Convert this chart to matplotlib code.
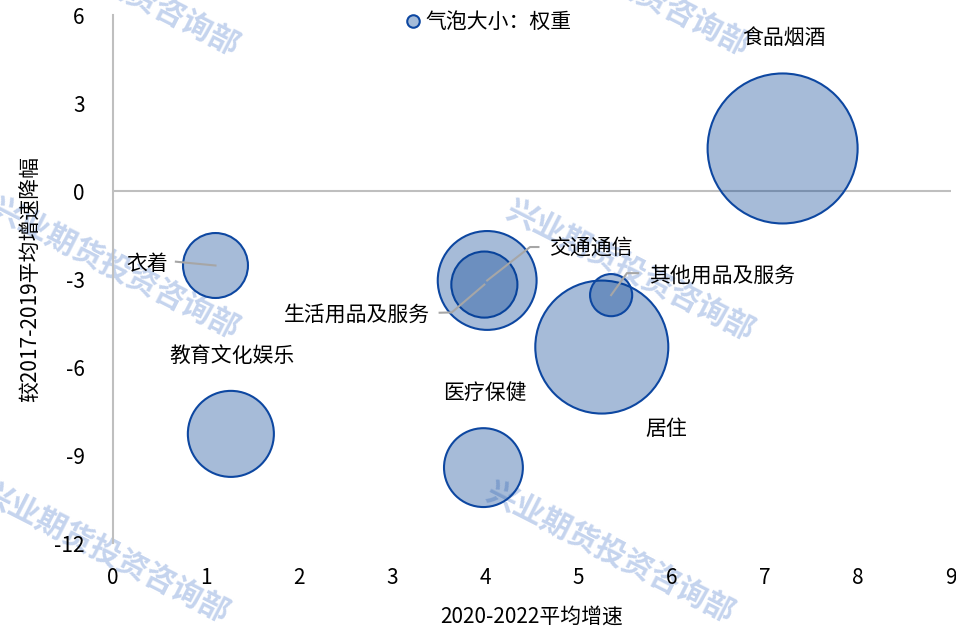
import matplotlib
matplotlib.use("Agg")
import matplotlib.pyplot as plt
from matplotlib.lines import Line2D

plt.rcParams['font.family'] = ['Noto Sans CJK SC', 'DejaVu Sans']
plt.rcParams['axes.unicode_minus'] = False

# ---- data ----
categories = ['食品烟酒', '衣着', '居住', '生活用品及服务', '交通通信',
              '教育文化娱乐', '医疗保健', '其他用品及服务']
growth_2020_2022 = [7.19, 1.105, 5.25, 3.99, 4.02, 1.27, 3.98, 5.35]
decline_vs_2017_2019 = [1.45, -2.54, -5.32, -3.19, -3.05, -8.28, -9.43, -3.55]
weights = [30.4, 5.7, 23.9, 5.9, 13.2, 10.0, 8.4, 2.4]
x_ticks = [0, 1, 2, 3, 4, 5, 6, 7, 8, 9]
y_ticks = [-12, -9, -6, -3, 0, 3, 6]

# ---- layout (label positions in data coords) ----
label_pos = {
    '食品烟酒': (7.20, 5.22),
    '衣着': (0.37, -2.49),
    '教育文化娱乐': (1.28, -5.63),
    '交通通信': (5.13, -1.94),
    '生活用品及服务': (2.62, -4.23),
    '其他用品及服务': (6.54, -2.90),
    '居住': (5.94, -8.11),
    '医疗保健': (3.99, -6.87),
}
leader_pts = {
    '衣着': [(0.68, -2.41)],
    '交通通信': [(4.57, -1.91), (4.48, -1.91)],
    '生活用品及服务': [(3.51, -4.15), (3.64, -4.14)],
    '其他用品及服务': [(5.64, -2.80), (5.52, -2.80)],
}

fill_color = (0.0, 0.24, 0.57, 0.35)
edge_color = '#0D47A1'
size_k = 383.7

fig = plt.figure(figsize=(9.56, 6.31), dpi=100)
ax = fig.add_axes([112.5 / 956, 1 - 543 / 631, (951.3 - 112.5) / 956, 528 / 631])
ax.patch.set_visible(False)

ax.set_xlim(0, 9)
ax.set_ylim(-12, 6)

ax.scatter(growth_2020_2022, decline_vs_2017_2019, s=[w * size_k for w in weights],
           facecolor=fill_color, edgecolor=edge_color, linewidth=1.5, zorder=3)

ax.axhline(0, color='#bfbfbf', linewidth=1.5, zorder=2)

for sp in ['top', 'right', 'bottom']:
    ax.spines[sp].set_visible(False)
ax.spines['left'].set_color('#bfbfbf')
ax.spines['left'].set_linewidth(1.5)

ax.set_xticks(x_ticks)
ax.set_yticks(y_ticks)
ax.tick_params(axis='x', length=0, pad=17, labelsize=15, labelcolor='black')
ax.tick_params(axis='y', length=0, pad=20, labelsize=15, labelcolor='black')

ax.set_xlabel('2020-2022平均增速', fontsize=15, labelpad=12, color='black')
ax.set_ylabel('较2017-2019平均增速降幅', fontsize=15, labelpad=9, color='black')

for name, xv, yv in zip(categories, growth_2020_2022, decline_vs_2017_2019):
    tx, ty = label_pos[name]
    ax.text(tx, ty, name, ha='center', va='center', fontsize=15, color='black', zorder=6)
    if name in leader_pts:
        pts = leader_pts[name] + [(xv, yv)]
        ax.plot([p[0] for p in pts], [p[1] for p in pts], color='#a6a6a6',
                linewidth=1.5, zorder=5)

handle = Line2D([], [], linestyle='none', marker='o', markersize=9,
                markerfacecolor=(0.647, 0.737, 0.851), markeredgecolor=edge_color,
                markeredgewidth=1.5)
fig.legend([handle], ['气泡大小：权重'], loc='center',
           bbox_to_anchor=(488 / 956, 1 - 22 / 631), frameon=False, fontsize=15,
           handlelength=0.8, handletextpad=0.2, borderpad=0, borderaxespad=0)

# watermarks (behind the chart)
wm = '兴业期货投资咨询部'
for cx, cy in [(115, -15), (115, 268), (105, 552), (625, -15), (630, 270), (610, 552)]:
    fig.text(cx / 956, 1 - cy / 631, wm, rotation=-27, ha='center', va='center',
             rotation_mode='anchor', fontsize=22, fontweight='bold',
             color='#c5d4ee', zorder=-1)

fig.savefig('out.png', dpi=100)
